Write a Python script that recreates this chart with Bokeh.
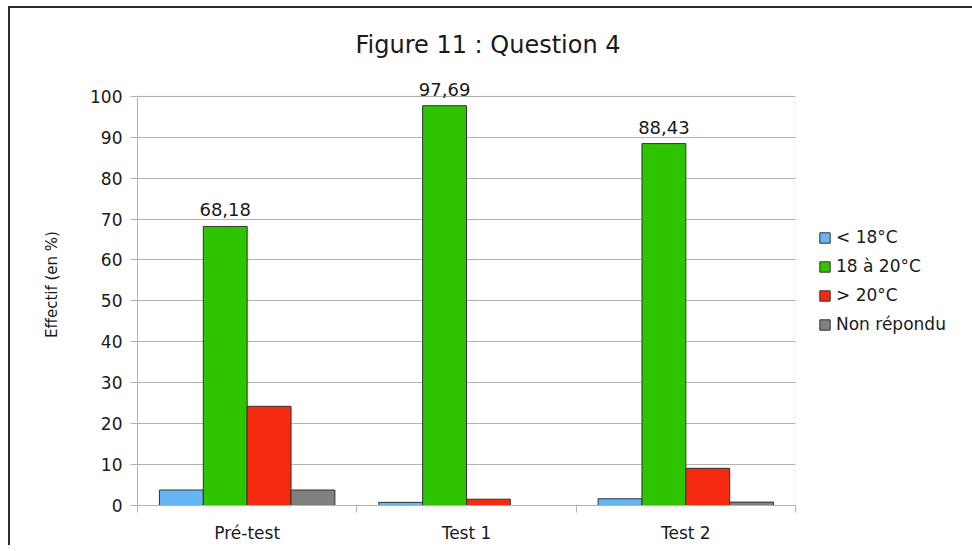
from bokeh.plotting import figure
from bokeh.models import (ColumnDataSource, Range1d, FixedTicker, SingleIntervalTicker,
                          Legend, LegendItem, LabelSet, BoxAnnotation)
from bokeh.core.properties import value
from bokeh.transform import dodge
from bokeh.embed import file_html
from bokeh.resources import INLINE

# ---- data ----
categories = ["Pré-test", "Test 1", "Test 2"]
series_names = ["< 18°C", "18 à 20°C", "> 20°C", "Non répondu"]
below_18 = [3.79, 0.77, 1.65]
between_18_20 = [68.18, 97.69, 88.43]
above_20 = [24.24, 1.54, 9.09]
no_answer = [3.79, 0.0, 0.83]
y_min, y_max = 0, 100
title_text = "Figure 11 : Question 4"
y_label = "Effectif (en %)"

# ---- style ----
FONT = "DejaVu Sans"
colors = ["#66b5f5", "#2fc400", "#f52a10", "#808080"]
grid_col = "#b3b3b3"
text_col = "#1a1a1a"

xs = [i + 0.5 for i in range(len(categories))]
fields = ["below_18", "between_18_20", "above_20", "no_answer"]
source = ColumnDataSource(dict(
    x=xs,
    below_18=below_18,
    between_18_20=between_18_20,
    above_20=above_20,
    no_answer=no_answer,
    green_lbl=[f"{v:.2f}".replace(".", ",") for v in between_18_20],
))

# extra headroom above 100 so the value labels are not clipped
p = figure(frame_width=658, frame_height=442,
           x_range=Range1d(0, len(categories)), y_range=Range1d(y_min, y_max * 1.08),
           output_backend="svg", toolbar_location=None,
           min_border_left=127, min_border_right=0,
           min_border_top=55, min_border_bottom=36)
p.styles = {"margin-left": "8px", "margin-top": "6px",
            "border-left": "2px solid #2b2b2b", "border-top": "2px solid #2b2b2b"}

p.title.text = title_text
p.title.align = "left"
p.title.offset = 218
p.title.standoff = 9
p.title.text_font = FONT
p.title.text_font_size = "24px"
p.title.text_font_style = "normal"
p.title.text_color = text_col

p.outline_line_color = None
p.xgrid.grid_line_color = None
p.ygrid.grid_line_color = grid_col
p.ygrid.grid_line_width = 1
p.ygrid.bounds = (y_min, y_max)

# plot-area border (0..100 box)
p.add_layout(BoxAnnotation(left=0, right=len(categories), bottom=y_min, top=y_max,
                           fill_alpha=0, line_color=grid_col, line_width=1, level="underlay"))

# y axis
p.yaxis.ticker = SingleIntervalTicker(interval=10, num_minor_ticks=0)
p.yaxis.bounds = (y_min, y_max)
p.yaxis.axis_line_color = grid_col
p.yaxis.major_tick_line_color = grid_col
p.yaxis.major_tick_out = 7
p.yaxis.major_tick_in = 0
p.yaxis.minor_tick_line_color = None
p.yaxis.major_label_standoff = 8
p.yaxis.major_label_text_font = FONT
p.yaxis.major_label_text_font_size = "17px"
p.yaxis.major_label_text_color = text_col
p.yaxis.axis_label = y_label
p.yaxis.axis_label_standoff = 26
p.yaxis.axis_label_text_font = FONT
p.yaxis.axis_label_text_font_size = "15px"
p.yaxis.axis_label_text_font_style = "normal"
p.yaxis.axis_label_text_color = text_col

# x axis: labels at category centres, ticks at category boundaries
p.xaxis.ticker = FixedTicker(ticks=xs, minor_ticks=list(range(len(categories) + 1)))
p.xaxis.major_label_overrides = {x: c for x, c in zip(xs, categories)}
p.xaxis.axis_line_color = grid_col
p.xaxis.major_tick_line_color = None
p.xaxis.minor_tick_line_color = grid_col
p.xaxis.minor_tick_out = 7
p.xaxis.minor_tick_in = 0
p.xaxis.major_label_standoff = 10
p.xaxis.major_label_text_font = FONT
p.xaxis.major_label_text_font_size = "17px"
p.xaxis.major_label_text_color = text_col

offsets = [-0.3, -0.1, 0.1, 0.3]
renderers = []
for f, off, col in zip(fields, offsets, colors):
    r = p.vbar(x=dodge("x", off), top=f, width=0.2, bottom=0, source=source,
               fill_color=col, line_color="#333333", line_width=1)
    renderers.append(r)

labels = LabelSet(x=dodge("x", offsets[1]), y="between_18_20", text="green_lbl",
                  source=source, y_offset=10, text_align="center", text_baseline="bottom",
                  text_font=value(FONT), text_font_size=value("18px"), text_color=text_col)
p.add_layout(labels)

legend = Legend(items=[LegendItem(label=n, renderers=[r]) for n, r in zip(series_names, renderers)],
                location=(23, 171), glyph_width=13, glyph_height=13,
                label_text_font=FONT, label_text_font_size="17px", label_text_color=text_col,
                label_height=20, spacing=9, padding=0, margin=0, label_standoff=5,
                border_line_color=None, background_fill_alpha=0)
p.add_layout(legend, "right")

open("out.html", "w").write(file_html(p, INLINE))
